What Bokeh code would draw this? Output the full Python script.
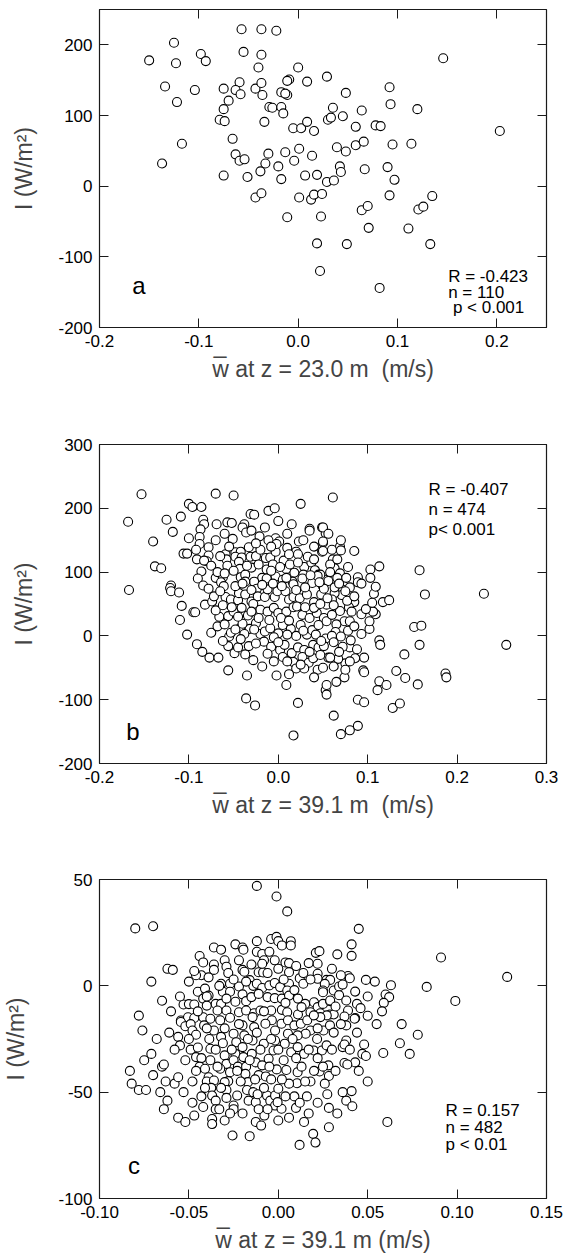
from bokeh.plotting import figure
from bokeh.layouts import column
from bokeh.models import LinearAxis, FixedTicker, PrintfTickFormatter, Label, Range1d, CustomJSTickFormatter
from bokeh.embed import file_html
from bokeh.resources import INLINE

FONT = "Liberation Sans"

# ---------------- data (w in m/s, I in W/m^2) ----------------
a_w_I = [
    (-0.057, 222), (-0.037, 222), (-0.022, 220), (-0.125, 203), (-0.150, 178), (-0.123, 174),
    (-0.098, 187), (-0.093, 177), (-0.055, 190), (-0.037, 186), (-0.040, 168), (0.000, 168),
    (-0.134, 141), (-0.104, 136), (-0.075, 138), (-0.059, 147), (-0.063, 136), (-0.058, 130),
    (-0.043, 138), (-0.037, 146), (-0.036, 129), (-0.009, 151), (-0.011, 149), (0.009, 148),
    (-0.017, 133), (-0.011, 129), (-0.013, 131), (-0.122, 119), (-0.070, 121), (-0.075, 109),
    (-0.029, 112), (-0.026, 111), (-0.017, 112), (-0.015, 103), (-0.079, 94), (-0.074, 92),
    (-0.034, 91), (-0.005, 82), (0.003, 82), (0.009, 91), (0.016, 78), (-0.066, 67),
    (-0.117, 60), (-0.063, 45), (-0.059, 36), (-0.054, 38), (-0.030, 46), (-0.033, 32),
    (-0.013, 48), (0.001, 53), (-0.004, 36), (0.014, 43), (-0.137, 32), (-0.020, 28),
    (-0.075, 15), (-0.051, 13), (-0.038, 21), (-0.017, 10), (0.007, 15), (0.019, 16),
    (-0.043, -16), (-0.037, -10), (0.001, -16), (0.013, -19), (0.016, -12), (0.024, -11),
    (-0.011, -44), (0.023, -43), (0.019, -81), (0.022, -120),
    (0.146, 181), (0.029, 155), (0.092, 140), (0.048, 132), (0.093, 116), (0.120, 109),
    (0.035, 111), (0.030, 94), (0.033, 97), (0.045, 99), (0.064, 107), (0.058, 84),
    (0.078, 86), (0.083, 85), (0.039, 55), (0.048, 49), (0.058, 58), (0.066, 63),
    (0.095, 59), (0.114, 60), (0.203, 78), (0.042, 28), (0.043, 20), (0.067, 24),
    (0.090, 27), (0.097, 9), (0.029, 6), (0.036, 8), (0.064, -34), (0.070, -28),
    (0.092, -13), (0.135, -14), (0.121, -33), (0.126, -29), (0.071, -59), (0.111, -60),
    (0.049, -82), (0.133, -82), (0.082, -144),
]

b_w_I = [
    (-0.153, 222), (-0.168, 179), (-0.070, 223), (-0.050, 220), (-0.100, 207), (-0.096, 202),
    (-0.086, 202), (-0.125, 182), (-0.109, 187), (-0.118, 163), (-0.140, 148), (-0.084, 182),
    (-0.083, 175), (-0.069, 175), (-0.057, 178), (-0.052, 177), (-0.031, 191), (-0.027, 190),
    (-0.011, 196), (-0.004, 200), (0.025, 207), (-0.038, 175), (-0.040, 170), (-0.036, 162),
    (-0.030, 165), (-0.087, 167), (-0.088, 155), (-0.100, 153), (-0.088, 144), (-0.051, 152),
    (-0.021, 156), (-0.003, 153), (-0.011, 150), (0.001, 148), (0.023, 148), (0.028, 150),
    (0.035, 168), (0.035, 165), (0.049, 170), (0.053, 161), (0.050, 146), (0.049, 132),
    (0.010, 138), (0.020, 132), (0.022, 128), (-0.033, 139), (-0.092, 135), (-0.078, 139),
    (-0.106, 129), (-0.102, 129), (-0.091, 120), (-0.078, 126), (-0.080, 117), (-0.083, 118),
    (-0.059, 128), (-0.058, 120), (-0.057, 110), (-0.048, 131), (-0.042, 132), (-0.048, 124),
    (-0.041, 123), (-0.044, 116), (-0.043, 105), (-0.031, 124), (-0.025, 125), (-0.030, 107),
    (-0.020, 135), (-0.014, 122), (-0.009, 123), (-0.013, 104), (-0.006, 112), (-0.003, 132),
    (-0.002, 144), (0.006, 118), (0.009, 105), (0.018, 99), (0.029, 108), (0.028, 96),
    (0.037, 115), (0.041, 103), (0.045, 96), (-0.138, 109), (-0.131, 106), (-0.086, 101),
    (-0.090, 90), (-0.070, 91), (-0.062, 92), (-0.064, 84), (-0.120, 79), (-0.042, 92),
    (-0.037, 96), (-0.018, 91), (-0.009, 93), (-0.003, 93), (0.005, 88), (0.016, 85),
    (0.027, 90), (0.053, 88), (-0.027, 85),
    (0.061, 217), (0.050, 170), (0.056, 160), (0.050, 148), (0.050, 133), (0.069, 140),
    (0.070, 134), (0.085, 133), (0.061, 120), (0.063, 106), (0.069, 98), (0.066, 91),
    (0.076, 91), (0.089, 92), (0.089, 84), (0.103, 104), (0.113, 109), (0.103, 91),
    (0.158, 103), (0.047, 96),
    (-0.167, 72), (-0.121, 75), (-0.120, 70), (-0.111, 68), (-0.108, 47), (-0.095, 37),
    (-0.093, 37), (-0.110, 25), (-0.102, 2), (-0.075, 5), (-0.082, 49), (-0.074, 54),
    (-0.066, 30), (-0.056, 31), (-0.059, 61), (-0.091, -13), (-0.085, -25), (-0.077, -34),
    (-0.067, -34), (-0.056, -16), (-0.049, -27), (-0.045, -18), (-0.037, -29), (-0.033, -16),
    (-0.056, -54), (-0.035, -62), (-0.036, -98), (-0.026, -109), (-0.002, -62), (0.009, -77),
    (0.022, -105), (0.017, -156), (-0.055, -1), (-0.053, 5), (-0.043, 12), (-0.032, 11),
    (-0.084, 79), (-0.078, 74), (-0.061, 78), (-0.037, 85), (-0.024, 74), (-0.013, 90),
    (0.009, 91), (0.017, 81), (0.038, 83), (0.044, 94), (0.050, 78), (-0.053, 57),
    (-0.045, 56), (-0.044, 67), (-0.037, 65), (-0.030, 54), (-0.023, 62), (-0.015, 61),
    (-0.012, 73), (-0.004, 61), (-0.001, 70), (0.008, 70), (0.012, 57), (0.017, 61),
    (0.024, 59), (0.032, 65), (0.040, 53), (0.048, 65), (0.054, 49), (-0.050, 38),
    (-0.041, 44), (-0.034, 32), (-0.028, 50), (-0.020, 41), (-0.012, 38), (-0.005, 44),
    (0.000, 36), (0.009, 38), (0.017, 45), (0.021, 46), (0.027, 33), (0.035, 28),
    (0.043, 36), (0.051, 28), (-0.040, 19), (-0.025, 20), (-0.020, 3), (-0.015, 7),
    (-0.009, 12), (0.000, 4), (0.005, 17), (0.014, 11), (0.020, 0), (0.025, 17),
    (0.032, 2), (0.038, 9), (0.045, 17), (0.054, 23), (-0.016, -9), (-0.008, -17),
    (0.002, -22), (0.007, -14), (0.015, -27), (0.022, -18), (0.029, -22), (0.039, -14),
    (0.045, -18), (0.053, -4), (0.056, -34), (0.005, -33), (0.017, -41), (0.020, -51),
    (0.027, -33), (0.034, -42), (0.039, -35), (0.044, -53), (0.029, -51), (0.053, -85),
    (0.054, -77),
    (0.230, 66), (0.164, 65), (0.255, -14), (0.152, 14), (0.160, 16), (0.158, -14),
    (0.141, -29), (0.187, -59), (0.188, -65), (0.132, -55), (0.142, -66), (0.156, -76),
    (0.113, -7), (0.114, -14), (0.113, -71), (0.111, -85), (0.121, -77), (0.095, -54),
    (0.096, -57), (0.089, -100), (0.096, -104), (0.128, -113), (0.136, -106), (0.062, -125),
    (0.070, -154), (0.080, -148), (0.089, -141), (0.054, -92), (0.065, -72), (0.074, -65),
    (0.075, -43), (0.075, -53), (0.096, -34), (0.086, -35), (0.067, -36), (0.058, -34),
    (0.080, -18), (0.088, -21), (0.072, -17), (0.081, -7), (0.093, 3), (0.102, 11),
    (0.102, 23), (0.109, 34), (0.106, 38), (0.093, 34), (0.098, 42), (0.105, 52),
    (0.107, 66), (0.109, 77), (0.117, 53), (0.124, 56), (0.093, 82), (0.085, 53),
    (0.079, 45), (0.082, 38), (0.080, 76), (0.071, 73), (0.071, 64), (0.063, 67),
    (0.060, 57), (0.055, 59), (0.056, 86), (0.063, 76), (0.051, 74), (0.069, 39),
    (0.074, 23), (0.080, 23), (0.065, 18), (0.060, 33), (0.064, 6), (0.060, 0),
    (0.070, -1), (0.051, -16),
    # dense core (estimated where circles overlap)
    (-0.075, 110), (-0.068, 100), (-0.060, 98), (-0.050, 102), (-0.035, 110), (-0.022, 112),
    (-0.008, 102), (0.002, 108), (0.013, 112), (0.022, 115), (0.033, 124), (0.040, 120),
    (0.058, 112), (0.066, 120), (0.078, 108), (-0.072, 62), (-0.065, 70), (-0.048, 78),
    (-0.040, 82), (-0.030, 72), (-0.018, 80), (-0.006, 82), (0.004, 78), (0.020, 72),
    (0.030, 76), (0.036, 95), (0.046, 84), (0.058, 100), (0.068, 82), (0.075, 70),
    (-0.070, 40), (-0.062, 48), (-0.052, 45), (-0.045, 30), (-0.030, 38), (-0.022, 28),
    (-0.010, 25), (0.003, 28), (0.012, 24), (0.030, 45), (0.040, 44), (0.047, 50),
    (0.062, 48), (0.077, 55), (0.085, 62), (-0.068, 15), (-0.060, 18), (-0.048, 10),
    (-0.038, 3), (-0.027, 10), (-0.005, -2), (0.010, 2), (0.028, 8), (0.042, 2),
    (0.048, -8), (0.062, -10), (0.078, 8), (0.085, 15), (-0.062, -8), (-0.042, -5),
    (-0.025, -12), (-0.012, -28), (0.000, -10), (0.010, -40), (0.025, -45), (0.035, -25),
    (0.047, -30), (0.062, -48), (0.068, -25), (0.080, -40), (-0.028, -38), (-0.018, -48),
    (-0.005, -40), (0.012, -60), (0.040, -65), (0.050, -50), (-0.065, 125), (-0.055, 140),
    (-0.025, 145), (-0.008, 140), (0.012, 128), (0.040, 140), (0.060, 135), (0.070, 150),
    (0.010, 160), (-0.015, 170), (-0.060, 160), (-0.070, 150), (0.000, 180), (0.015, 175),
]

c_w_I = [
    (-0.012, 47), (-0.001, 42), (0.005, 35), (-0.080, 27), (-0.070, 28), (-0.062, 8),
    (-0.059, 7.5), (-0.071, 2), (-0.065, -7), (-0.078, -14), (-0.050, 2), (-0.044, 14),
    (-0.036, 18), (-0.032, 17), (-0.024, 19.5), (-0.020, 18), (-0.0195, 17), (-0.012, 21),
    (-0.004, 22), (-0.001, 23), (0.000, 21), (0.002, 19), (0.007, 21), (0.007, 19),
    (-0.022, 12), (-0.030, 12), (-0.029, 9), (-0.028, 6), (-0.036, 10), (-0.036, 7.5),
    (-0.042, 11), (-0.043, 5), (-0.046, 5), (-0.047, 7), (-0.039, 4), (-0.020, 7.5),
    (-0.019, 6.6), (-0.012, 16), (-0.009, 15), (-0.005, 16), (-0.008, 12), (-0.002, 12),
    (-0.011, 6.4), (-0.0085, 6.3), (-0.009, 10.4), (0.004, 11), (0.006, 10.7), (0.010, 9.3),
    (0.006, 6.4), (0.006, 1), (0.012, 3.6), (0.014, 1), (0.017, 10.7), (0.021, 15.5),
    (0.023, 16.3), (0.022, 10.4), (0.022, 5.7), (0.022, 3.3), (0.027, 2.8), (-0.016, 2.7),
    (-0.014, 0), (-0.012, 1), (-0.009, -1), (-0.005, 0.2), (-0.002, 1.3), (0.001, -0.6),
    (0.005, -2.2), (-0.032, 1), (-0.027, 1), (-0.031, -2.8), (-0.027, -2.8), (-0.022, -0.3),
    (-0.020, -4), (-0.045, -2.8), (-0.041, -1.3), (-0.039, -4.6), (-0.042, -6), (-0.040, -9.3),
    (-0.053, -8.8), (-0.050, -8.6), (-0.047, -8.8), (-0.035, -8.5), (-0.032, -8.5), (-0.029, -6),
    (-0.024, -7.5), (-0.018, -7.2), (-0.015, -5.3), (-0.011, -3.8), (-0.006, -5.3), (-0.002, -5.8),
    (0.002, -6), (0.006, -4.6), (0.011, -6), (0.015, -8.5), (0.020, -7.7), (0.022, -10),
    (0.025, -8.5), (0.029, -7.2), (-0.034, -11.6), (-0.029, -11.6), (-0.022, -12.4), (-0.018, -11.6),
    (-0.0135, -12.9), (-0.010, -11.6), (-0.004, -11.6), (0.002, -11.3), (0.005, -12.4), (0.011, -13.5),
    (0.018, -12.4), (0.0235, -12.9), (0.029, -13.5), (-0.0545, -16.3), (-0.0505, -14.8), (-0.047, -15.1),
    (-0.042, -14.8), (-0.038, -15.5),
    (0.045, 26.8), (0.041, 19.5), (0.033, 14.8), (0.041, 14.1), (0.091, 13.3), (0.128, 4.2),
    (0.083, -0.5), (0.099, -7.1), (0.039, 4.6), (0.040, 3.6), (0.049, 2.8), (0.054, 2),
    (0.063, 0.3), (0.060, -4.1), (0.062, -5.3), (0.059, -8), (0.043, -2.7), (0.044, -8.5),
    (0.046, -10.5), (0.050, -14.1), (0.039, -11.6), (0.043, -15.1), (0.037, -14.4), (0.031, -13.5),
    (0.029, 2.8), (0.026, 0.9), (0.025, -2.2), (0.031, -2.2), (0.034, -0.3), (0.036, 0.6),
    (0.029, -6.9), (0.032, -9.7), (0.034, -4.4), (0.038, -6.9),
    (-0.076, -21), (-0.075, -35), (-0.071, -32), (-0.083, -40), (-0.082, -46), (-0.078, -49),
    (-0.074, -49), (-0.065, -38), (-0.064, -37), (-0.063, -45), (-0.058, -46), (-0.056, -43),
    (-0.053, -50), (-0.062, -54), (-0.064, -58), (-0.056, -62), (-0.047, -61), (-0.042, -57),
    (-0.061, -22), (-0.056, -24), (-0.055, -28), (-0.0545, -17), (-0.052, -19), (-0.049, -18),
    (-0.048, -21), (-0.046, -23), (-0.0415, -18.6), (-0.049, -30), (-0.045, -29), (-0.046, -33.5),
    (-0.043, -34), (-0.044, -38), (-0.041, -39), (-0.039, -43), (-0.040, -45), (-0.036, -44.5),
    (-0.0375, -48), (-0.037, -51.6), (-0.035, -54), (-0.035, -58), (-0.037, -62.6), (-0.037, -65),
    (-0.0386, -25), (-0.038, -29.6), (-0.036, -21), (-0.0325, -16.2), (-0.032, -24), (-0.031, -27),
    (-0.030, -32.7), (-0.029, -36.7), (-0.0325, -39), (-0.027, -40.6), (-0.028, -44.8), (-0.030, -45.3),
    (-0.029, -49), (-0.029, -52.7), (-0.030, -63.3), (-0.0256, -70.4), (-0.025, -56.3), (-0.025, -58),
    (-0.023, -51.6), (-0.025, -22.5), (-0.0235, -26.5), (-0.024, -32), (-0.025, -35), (-0.0226, -38),
    (-0.020, -18.6), (-0.019, -23.3), (-0.020, -28.8), (-0.0195, -33.5), (-0.018, -38), (-0.0184, -41.4),
    (-0.017, -45.3), (-0.0175, -49), (-0.0166, -54), (-0.014, -50), (-0.0126, -54.7), (-0.0116, -51),
    (-0.016, -70.7), (-0.0144, -14.7), (-0.0135, -19.4), (-0.0144, -25.7), (-0.0148, -32), (-0.0126, -36),
    (-0.011, -42), (-0.007, -42.6), (-0.009, -37.4), (-0.0054, -34.3), (-0.0027, -30.4), (-0.0018, -25.7),
    (-0.0018, -21), (-0.0036, -16.2), (-0.0072, -17.8), (-0.0081, -27.2), (-0.0126, -64), (-0.0096, -65.7),
    (-0.0078, -61), (-0.0063, -51.6), (-0.0045, -54), (-0.0018, -51.6), (0.000, -48.4), (-0.0018, -56.3),
    (0.0018, -57.8), (0.000, -63.3), (-0.0004, -54.7), (-0.0009, -39.3), (0.0045, -39.6), (0.0018, -17.8),
    (0.0054, -16.2), (0.009, -18.6), (0.0126, -17.8), (0.0162, -16.2), (0.018, -21), (0.0153, -22.5),
    (0.0108, -23.3), (0.0054, -22.5), (0.0036, -27.2), (0.0072, -31.2), (0.0108, -28.8), (0.0144, -32),
    (0.0199, -30.4), (0.0244, -30.4), (0.0217, -25), (0.0253, -21), (0.0289, -18.6), (0.0271, -13.9),
    (0.0235, -14.7), (0.0199, -13.9), (0.0108, -40.6), (0.0105, -45.8), (0.018, -45), (0.0231, -40.3),
    (0.028, -37.4), (0.0283, -42.4), (0.0274, -51), (0.0283, -57.4), (0.0283, -66.5), (0.009, -52),
    (0.0099, -57.4), (0.0144, -64), (0.0195, -69.6), (0.0208, -73.7), (0.0119, -74.8),
    (0.069, -18), (0.078, -23), (0.068, -27), (0.0735, -32), (0.0587, -31.6), (0.048, -27.6),
    (0.047, -32), (0.049, -33), (0.043, -36), (0.037, -36.3), (0.0386, -37), (0.038, -25.7),
    (0.036, -28.8), (0.037, -27.6), (0.038, -18.6), (0.0427, -15.5), (0.041, -49.5), (0.038, -54),
    (0.0414, -56.6), (0.061, -64),
    # dense core (estimated where circles overlap)
    (-0.045, -12), (-0.040, -20), (-0.035, -30), (-0.030, -20), (-0.027, -15), (-0.022, -18),
    (-0.017, -25), (-0.012, -22), (-0.008, -12), (-0.004, -25), (0.000, -30), (0.004, -8),
    (0.008, -25), (0.013, -10), (0.017, -30), (0.022, -20), (0.027, -28), (0.031, -22),
    (0.035, -18), (-0.050, -25), (-0.046, -40), (-0.041, -48), (-0.034, -38), (-0.026, -30),
    (-0.021, -45), (-0.013, -44), (-0.008, -48), (-0.004, -44), (0.003, -35), (0.006, -46),
    (0.013, -38), (0.016, -52), (0.022, -34), (0.026, -46), (0.032, -40), (0.036, -50),
    (-0.052, -35), (-0.048, -45), (-0.043, -52), (-0.033, -58), (-0.027, -60), (-0.020, -60),
    (-0.011, -58), (-0.006, -58), (0.004, -52), (0.006, -62), (0.012, -55), (0.017, -60),
    (0.022, -55), (0.033, -60), (-0.040, -5), (-0.033, 0), (-0.025, 3), (-0.018, 2),
    (-0.015, 10), (-0.006, 6), (0.000, 8), (0.003, 3), (0.009, -2), (0.014, 6),
    (0.018, 3), (0.025, -3), (0.030, 8), (0.035, 5), (-0.058, -30), (-0.060, -12),
    (-0.055, -5), (-0.068, -25), (-0.066, -50), (-0.070, -42), (-0.048, -55), (-0.052, -64),
    (-0.038, -35), (-0.032, -48), (-0.023, -40), (-0.016, -35), (-0.010, -30), (-0.005, -38),
    (0.002, -44), (0.010, -34), (0.015, -45), (0.020, -40), (0.025, -38), (0.030, -30),
    (0.040, -30), (0.045, -40), (0.050, -45), (0.044, -22), (0.050, -5), (0.055, -18),
    (0.058, -12),
]

a_xticks = [-0.2, -0.1, 0.0, 0.1, 0.2]
a_yticks = [-200, -100, 0, 100, 200]
b_xticks = [-0.2, -0.1, 0.0, 0.1, 0.2, 0.3]
b_yticks = [-200, -100, 0, 100, 200, 300]
c_xticks = [-0.10, -0.05, 0.00, 0.05, 0.10, 0.15]
c_yticks = [-100, -50, 0, 50]

NB = "\u00a0"
a_stats = ["R = -0.423", "n = 110", NB + "p < 0.001"]
b_stats = ["R = -0.407", "n = 474", "p< 0.001"]
c_stats = ["R = 0.157", "n = 482", "p < 0.01"]

a_xlabel = "w\u0305 at z = 23.0 m" + NB + NB + "(m/s)"
b_xlabel = "w\u0305 at z = 39.1 m" + NB + NB + "(m/s)"
c_xlabel = "w\u0305 at z = 39.1 m (m/s)"
ylabel = "I (W/m\u00b2)"

EDGE = "#1a1a1a"


def style_axis(ax, ticks, fmt, show_labels):
    ax.ticker = FixedTicker(ticks=ticks)
    ax.axis_line_color = EDGE
    ax.axis_line_width = 1.2
    ax.major_tick_line_color = EDGE
    ax.major_tick_in = 9
    ax.major_tick_out = 0
    ax.minor_tick_line_color = None
    if show_labels:
        ax.formatter = PrintfTickFormatter(format=fmt)
        ax.major_label_text_font = FONT
        ax.major_label_text_font_size = "17px"
        ax.major_label_text_color = "black"
        ax.major_label_standoff = 7
    else:
        ax.formatter = CustomJSTickFormatter(code="return ''")
        ax.major_label_standoff = 0
        ax.major_label_text_font_size = "1px"


def panel(pairs, xr, yr, xticks, yticks, xfmt, xlabel, stats, sx, sy, sdy, letter, lx, ly,
          height, top, bottom, left, right, ylab_standoff):
    p = figure(width=574, height=height, x_range=Range1d(*xr), y_range=Range1d(*yr),
               output_backend="svg", toolbar_location=None,
               min_border_left=left, min_border_right=right,
               min_border_top=top, min_border_bottom=bottom)
    p.grid.visible = False
    p.outline_line_color = EDGE
    p.background_fill_color = "white"
    p.border_fill_color = "white"

    style_axis(p.xaxis[0], xticks, xfmt, True)
    style_axis(p.yaxis[0], yticks, "%d", True)
    p.xaxis[0].axis_label = xlabel
    p.xaxis[0].axis_label_text_font = FONT
    p.xaxis[0].axis_label_text_font_size = "23px"
    p.xaxis[0].axis_label_text_font_style = "normal"
    p.xaxis[0].axis_label_standoff = 6
    p.yaxis[0].axis_label = ylabel
    p.yaxis[0].axis_label_text_font = FONT
    p.yaxis[0].axis_label_text_font_size = "23px"
    p.yaxis[0].axis_label_text_font_style = "normal"
    p.yaxis[0].axis_label_standoff = ylab_standoff

    top_ax = LinearAxis()
    style_axis(top_ax, xticks, xfmt, False)
    p.add_layout(top_ax, "above")
    right_ax = LinearAxis()
    style_axis(right_ax, yticks, "%d", False)
    p.add_layout(right_ax, "right")

    xs = [q[0] for q in pairs]
    ys = [q[1] for q in pairs]
    p.scatter(xs, ys, size=9, marker="circle", fill_color="white",
              line_color="black", line_width=1.1)

    for i, s in enumerate(stats):
        p.add_layout(Label(x=sx, y=sy - i * sdy, text=s, text_font=FONT,
                           text_font_size="17px", text_color="black",
                           text_baseline="alphabetic"))
    p.add_layout(Label(x=lx, y=ly, text=letter, text_font=FONT, text_font_size="24px",
                       text_color="black", text_baseline="alphabetic"))
    return p


pa = panel(a_w_I, (-0.2, 0.25), (-200, 250), a_xticks, a_yticks, "%.1f", a_xlabel,
           a_stats, 0.151, -128, 22, "a", -0.167, -140,
           height=415, top=9, bottom=88, left=95, right=21, ylab_standoff=18)
pb = panel(b_w_I, (-0.2, 0.3), (-200, 300), b_xticks, b_yticks, "%.1f", b_xlabel,
           b_stats, 0.168, 230, 32, "b", -0.170, -150,
           height=435, top=29, bottom=87, left=90, right=25, ylab_standoff=18)
pc = panel(c_w_I, (-0.10, 0.15), (-100, 50), c_xticks, c_yticks, "%.2f", c_xlabel,
           c_stats, 0.0935, -58.6, 7.9, "c", -0.084, -84.5,
           height=408, top=29, bottom=60, left=85, right=28, ylab_standoff=26)

layout = column(pa, pb, pc, spacing=0)
open("out.html", "w").write(file_html(layout, INLINE))
